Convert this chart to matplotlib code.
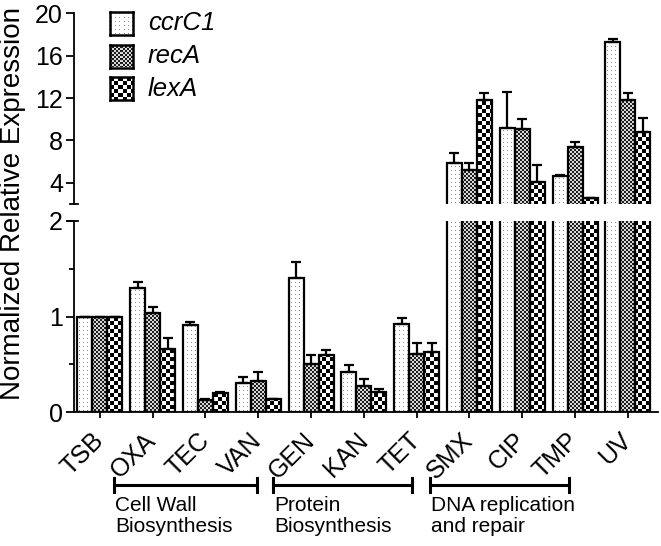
import numpy as np
import matplotlib
matplotlib.use("Agg")
import matplotlib.pyplot as plt
from matplotlib.path import Path
from matplotlib.transforms import blended_transform_factory

plt.rcParams['font.family'] = ['Liberation Sans', 'DejaVu Sans']

# data
conditions = ["TSB", "OXA", "TEC", "VAN", "GEN", "KAN", "TET", "SMX", "CIP", "TMP", "UV"]
genes = ["ccrC1", "recA", "lexA"]
ccrC1 = [1.0, 1.295, 0.91, 0.307, 1.40, 0.42, 0.918, 5.89, 9.2, 4.63, 17.33]
ccrC1_err = [0.0, 0.07, 0.035, 0.056, 0.167, 0.07, 0.062, 0.95, 3.4, 0.07, 0.25]
recA = [1.0, 1.04, 0.125, 0.328, 0.50, 0.275, 0.604, 5.2, 9.1, 7.4, 11.82]
recA_err = [0.0, 0.06, 0.01, 0.09, 0.094, 0.07, 0.122, 0.63, 0.9, 0.47, 0.68]
lexA = [1.0, 0.656, 0.195, 0.136, 0.597, 0.206, 0.625, 11.82, 4.1, 2.53, 8.76]
lexA_err = [0.0, 0.114, 0.01, 0.005, 0.053, 0.031, 0.10, 0.68, 1.57, 0.07, 1.33]
groups = ["Cell Wall\nBiosynthesis", "Protein\nBiosynthesis", "DNA replication\nand repair"]
group_spans = [(0.27, 2.97), (3.28, 5.92), (6.25, 8.89)]

values = [ccrC1, recA, lexA]
errors = [ccrC1_err, recA_err, lexA_err]


def pattern(kind, h, w):
    yy, xx = np.mgrid[0:h, 0:w]
    img = np.ones((h, w))
    if kind == 0:
        # sparse grey dots
        img[(yy % 4 == 1) & (xx % 4 == 1)] = 0.55
    elif kind == 1:
        # fine checker
        img = np.where(((yy // 2) + (xx // 2)) % 2 == 0, 0.12, 0.85)
    else:
        # coarse checker
        img = np.where(((yy // 4) + (xx // 4)) % 2 == 0, 0.0, 1.0)
    return np.dstack([img, img, img])


fig = plt.figure(figsize=(6.61, 5.46), dpi=100)
W, H = 661, 546
left, right = 74 / W, 658 / W
ax_lo = fig.add_axes([left, 1 - 412 / H, right - left, (412 - 221) / H])
ax_hi = fig.add_axes([left, 1 - 204 / H, right - left, (204 - 13.3) / H])

x = np.arange(len(conditions))
bw = 0.284
xlim = (-0.49, 10.57)

for ax, ylim in [(ax_lo, (0, 2)), (ax_hi, (2, 20))]:
    ax.set_xlim(xlim)
    ax.set_ylim(ylim)
    bb = ax.get_position()
    pw, ph = int(round(bb.width * W)), int(round(bb.height * H))
    for i in range(3):
        bars = ax.bar(x + (i - 1) * bw, values[i], bw, facecolor='none',
                      edgecolor='black', linewidth=1.6, zorder=3)
        paths = [p.get_path().transformed(p.get_patch_transform()) for p in bars]
        clip = Path.make_compound_path(*paths)
        im = ax.imshow(pattern(i, ph, pw), extent=(xlim[0], xlim[1], ylim[0], ylim[1]),
                       aspect='auto', interpolation='nearest', zorder=2)
        im.set_clip_path(clip, ax.transData)
        ax.errorbar(x + (i - 1) * bw, values[i], yerr=[np.zeros(len(x)), errors[i]],
                    fmt='none', ecolor='black', elinewidth=1.6, capsize=3.5,
                    capthick=1.6, zorder=4)
    ax.set_xlim(xlim)
    ax.set_ylim(ylim)
    ax.spines['top'].set_visible(False)
    ax.spines['right'].set_visible(False)
    ax.spines['left'].set_linewidth(1.3)
    ax.spines['bottom'].set_linewidth(1.3)
    ax.tick_params(axis='y', direction='out', length=6, width=1.3, labelsize=18, pad=2)
    ax.tick_params(axis='y', which='minor', direction='out', length=3.5, width=1.3)

# lower panel
ax_lo.set_yticks([0, 1, 2])
ax_lo.set_yticks([0.5, 1.5], minor=True)
ax_lo.set_xticks(x)
ax_lo.set_xticklabels(conditions, rotation=45, ha='right', va='center',
                      rotation_mode='anchor', fontsize=18)
ax_lo.tick_params(axis='x', direction='out', length=4, width=1.3, pad=14)

# upper panel
ax_hi.spines['bottom'].set_visible(False)
ax_hi.set_xticks([])
ax_hi.set_yticks([4, 8, 12, 16, 20])
ax_hi.patch.set_alpha(0)

# break caps on the y axis
tr_hi = blended_transform_factory(ax_hi.transAxes, ax_hi.transData)
ax_hi.plot([-0.006, 0.006], [2, 2], color='black', lw=1.3, transform=tr_hi, clip_on=False)
tr_lo = blended_transform_factory(ax_lo.transAxes, ax_lo.transData)
ax_lo.plot([-0.01, 0.007], [2, 2], color='black', lw=1.3, transform=tr_lo, clip_on=False)

fig.text(13 / W, 1 - 203 / H, "Normalized Relative Expression", rotation=90,
         ha='center', va='center', fontsize=20)

# group brackets
tr = blended_transform_factory(ax_lo.transData, fig.transFigure)
yb = 1 - 485 / H
for (x0, x1), name in zip(group_spans, groups):
    ax_lo.plot([x0, x1], [yb, yb], color='black', lw=2.2, transform=tr, clip_on=False)
    for xe in (x0, x1):
        ax_lo.plot([xe, xe], [yb - 7 / H, yb + 7 / H], color='black', lw=2.2,
                   transform=tr, clip_on=False)
    ax_lo.text(x0 + 0.02, 1 - 496 / H, name, transform=tr, ha='left', va='top',
               fontsize=15, linespacing=1.15)

# legend drawn by hand so the swatches carry the fill patterns
for i, g in enumerate(genes):
    cy = 23.5 + 32.5 * i
    sw = fig.add_axes([110 / W, 1 - (cy + 11.5) / H, 23 / W, 23 / H])
    sw.imshow(pattern(i, 23, 23), interpolation='nearest', aspect='auto')
    sw.set_xticks([])
    sw.set_yticks([])
    for s in sw.spines.values():
        s.set_linewidth(1.8)
    fig.text(148 / W, 1 - cy / H, g, ha='left', va='center', fontsize=18.5, style='italic')

fig.savefig("out.png", dpi=100)
